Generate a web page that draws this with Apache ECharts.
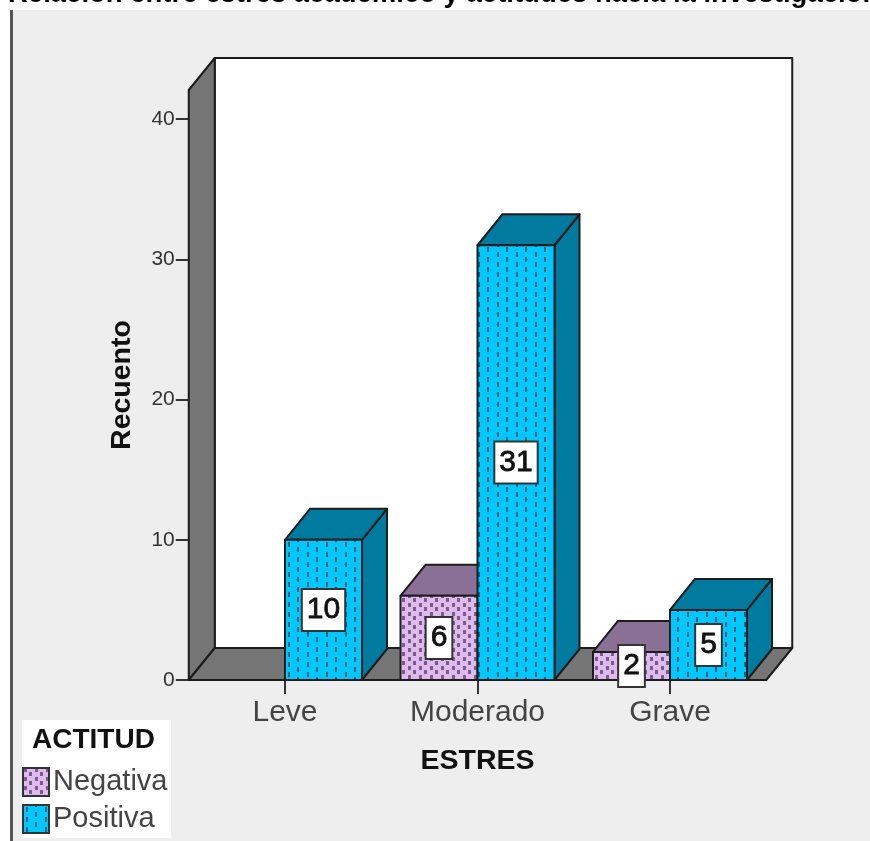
<!DOCTYPE html>
<html>
<head>
<meta charset="utf-8">
<style>html,body{margin:0;padding:0;background:#fff}#c{width:870px;height:841px}</style>
<script src="https://cdn.jsdelivr.net/npm/echarts@6/dist/echarts.min.js"></script>
</head>
<body>
<div id="c"></div>
<script>
const titleText = 'Relación entre estres académico y actitudes hacia la investigación';
const categories = ['Leve', 'Moderado', 'Grave'];
const negativa = [null, 6, 2];
const positiva = [10, 31, 5];
const yTicks = [0, 10, 20, 30, 40];
const yMax = 42.07;
const xName = 'ESTRES';
const yName = 'Recuento';
const legendTitle = 'ACTITUD';

const FONT = '"Liberation Sans", Arial, sans-serif';
const INK = '#1c1c1c';

function makePattern(w, h, bg, draw) {
  const cv = document.createElement('canvas');
  cv.width = w; cv.height = h;
  const ctx = cv.getContext('2d');
  ctx.fillStyle = bg; ctx.fillRect(0, 0, w, h);
  draw(ctx);
  return { image: cv, repeat: 'repeat' };
}
const negFill = makePattern(11, 9, '#e0b8f2', ctx => {
  ctx.fillStyle = '#75607f';
  [[1, 0], [6, 4]].forEach(p => ctx.fillRect(p[0], p[1], 3, 4));
});
const posFill = makePattern(19, 20, '#00c8ff', ctx => {
  ctx.fillStyle = '#17627c';
  ctx.fillRect(3, 2, 2, 5);
  ctx.fillRect(3, 12, 2, 5);
  ctx.fillRect(12, 7, 2, 5);
  ctx.fillRect(12, 17, 2, 3);
  ctx.fillRect(12, 0, 2, 2);
});

const depth = [25, -31];
const edge = { stroke: INK, lineWidth: 2, lineJoin: 'round' };

function renderBar(side, fill, topColor, sideColor) {
  return function (params, api) {
    const v = api.value(1);
    if (v == null || isNaN(v)) return null;
    const top = api.coord([api.value(0), v]);
    const base = api.coord([api.value(0), 0]);
    const w = api.size([1, 0])[0] * 0.4;
    const x0 = side < 0 ? top[0] - w : top[0];
    const x1 = x0 + w;
    const yT = top[1], yB = base[1];
    const dx = depth[0], dy = depth[1];
    return {
      type: 'group',
      children: [
        { type: 'polygon', shape: { points: [[x1, yT], [x1 + dx, yT + dy], [x1 + dx, yB + dy], [x1, yB]] },
          style: Object.assign({ fill: sideColor }, edge) },
        { type: 'polygon', shape: { points: [[x0, yT], [x0 + dx, yT + dy], [x1 + dx, yT + dy], [x1, yT]] },
          style: Object.assign({ fill: topColor }, edge) },
        { type: 'rect', shape: { x: x0, y: yT, width: w, height: yB - yT },
          style: Object.assign({ fill: fill }, edge) },
        { type: 'text', z2: 20, style: {
            text: String(v), x: (x0 + x1) / 2, y: (yT + yB) / 2, align: 'center', verticalAlign: 'middle',
            font: '30px ' + FONT, fill: '#111', stroke: '#111', lineWidth: 0.8, backgroundColor: '#fff',
            borderColor: '#333', borderWidth: 2, padding: [5, 4, 5, 4] } }
      ]
    };
  };
}

function renderWalls(params, api) {
  const c = params.coordSys;
  const dx = 26, dy = -32;
  const l = c.x, r = c.x + c.width, t = c.y, b = c.y + c.height;
  return {
    type: 'group',
    silent: true,
    children: [
      { type: 'rect', shape: { x: l + dx, y: t + dy, width: c.width, height: c.height },
        style: Object.assign({ fill: '#fff' }, edge) },
      { type: 'polygon', shape: { points: [[l, t], [l + dx, t + dy], [l + dx, b + dy], [l, b]] },
        style: Object.assign({ fill: '#757575' }, edge) },
      { type: 'polygon', shape: { points: [[l, b], [l + dx, b + dy], [r + dx, b + dy], [r, b]] },
        style: Object.assign({ fill: '#757575' }, edge) }
    ]
  };
}

const chart = echarts.init(document.getElementById('c'), null, { renderer: 'canvas' });
chart.setOption({
  animation: false,
  backgroundColor: '#fff',
  title: {
    text: titleText, left: 8, top: -20, padding: 0,
    textStyle: { fontFamily: FONT, fontWeight: 'bold', fontSize: 27.5, color: '#000' }
  },
  grid: { left: 188.75, top: 90, width: 577.5, height: 590, containLabel: false },
  xAxis: {
    type: 'category', data: categories, name: xName,
    nameLocation: 'middle', nameGap: 67,
    nameTextStyle: { fontFamily: FONT, fontWeight: 'bold', fontSize: 28.5, color: '#111' },
    axisLine: { lineStyle: { color: INK, width: 2 } },
    axisTick: { show: true, alignWithLabel: true, length: 14, lineStyle: { color: '#333', width: 2 } },
    axisLabel: { interval: 0, margin: 18, fontFamily: FONT, fontSize: 30, color: '#444' },
    splitLine: { show: false }
  },
  yAxis: {
    type: 'value', min: 0, max: yMax, name: yName,
    nameLocation: 'middle', nameGap: 52, nameRotate: 90,
    nameTextStyle: { fontFamily: FONT, fontWeight: 'bold', fontSize: 28.5, color: '#111' },
    axisLine: { show: true, lineStyle: { color: INK, width: 2 } },
    axisTick: { show: true, length: 13, customValues: yTicks, lineStyle: { color: '#333', width: 2 } },
    axisLabel: { customValues: yTicks, margin: 14, fontFamily: FONT, fontSize: 21, color: '#333', padding: [3, 0, 0, 0] },
    splitLine: { show: false }
  },
  legend: {
    data: ['Negativa', 'Positiva'], orient: 'vertical', left: 22, top: 767,
    padding: 0, itemGap: 7, itemWidth: 26, itemHeight: 28, icon: 'rect',
    textStyle: { fontFamily: FONT, fontSize: 29, color: '#444', padding: [2, 0, 0, -1] },
    selectedMode: false
  },
  graphic: [
    { type: 'rect', z: -1, silent: true, shape: { x: 12, y: 10, width: 858, height: 831 }, style: { fill: '#eeeeee' } },
    { type: 'rect', z: -1, silent: true, shape: { x: 10, y: 10, width: 3, height: 831 }, style: { fill: '#555' } },
    { type: 'rect', z: 1, silent: true, shape: { x: 22, y: 720, width: 149, height: 118 }, style: { fill: '#fff' } },
    { type: 'text', z: 10, silent: true, x: 32, y: 726, style: { text: legendTitle, font: 'bold 28px ' + FONT, fill: '#111' } }
  ],
  series: [
    { name: 'walls', type: 'custom', coordinateSystem: 'cartesian2d', z: 1, silent: true,
      renderItem: renderWalls, data: [[0, 0]], encode: { x: 0, y: 1 } },
    { name: 'Negativa', type: 'custom', coordinateSystem: 'cartesian2d', z: 2, silent: true,
      itemStyle: { color: negFill, borderColor: '#333', borderWidth: 2 },
      renderItem: renderBar(-1, negFill, '#8a7094', '#8a7094'),
      data: negativa.map((v, i) => [i, v]), encode: { x: 0, y: 1 } },
    { name: 'Positiva', type: 'custom', coordinateSystem: 'cartesian2d', z: 3, silent: true,
      itemStyle: { color: posFill, borderColor: '#333', borderWidth: 2 },
      renderItem: renderBar(1, posFill, '#007a9e', '#007a9e'),
      data: positiva.map((v, i) => [i, v]), encode: { x: 0, y: 1 } }
  ]
});
</script>
</body>
</html>
